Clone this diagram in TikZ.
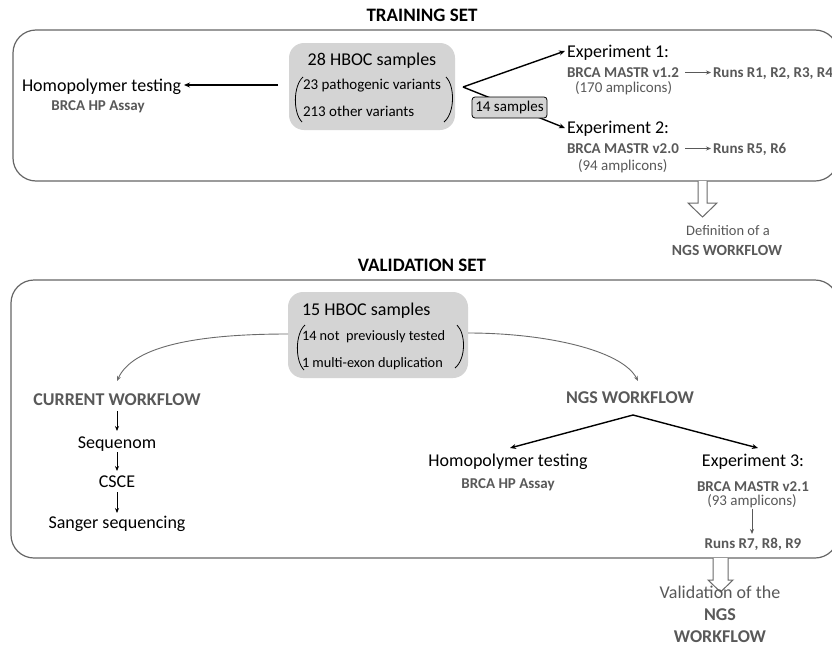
\documentclass[tikz,border=0pt]{standalone}
\usepackage{fontspec}
\setmainfont{Carlito}
\usetikzlibrary{arrows.meta}
\definecolor{tg}{HTML}{595959}
\definecolor{bx}{HTML}{666666}
\definecolor{fl}{HTML}{D4D4D4}
\definecolor{cv}{HTML}{6A6A6A}
\newcommand\fsA{\fontsize{18}{21}\selectfont}
\newcommand\fsB{\fontsize{15}{18}\selectfont}
\newcommand\fsC{\fontsize{14.3}{17}\selectfont}
\newcommand\fsT{\fontsize{19}{22}\selectfont\bfseries}
\begin{document}
\begin{tikzpicture}[x=1pt,y=-1pt,
  txt/.style={inner sep=0pt,outer sep=0pt},
  big/.style={txt,font=\fsA},
  small/.style={txt,font=\fsB},
  sub/.style={txt,font=\fsB\bfseries,text=tg},
  note/.style={txt,font=\fsB,text=tg},
  wf/.style={txt,font=\fontsize{18}{21}\selectfont\bfseries,text=tg},
  setbox/.style={draw=bx,line width=1.2pt,rounded corners=23pt},
  graybox/.style={fill=fl,rounded corners=15pt,inner sep=0pt,outer sep=0pt},
  blk/.style={line width=1.4pt,-{Stealth[length=6pt,width=5pt]}},
  thin/.style={line width=0.9pt,-{Stealth[length=5pt,width=4pt]}},
  gar/.style={line width=0.9pt,draw=tg,-{Stealth[length=5pt,width=4pt]}},
  curve/.style={line width=0.9pt,draw=cv,-{Stealth[length=5pt,width=4pt]}},
  paren/.style={line width=0.8pt},
  hollow/.style={draw=cv,line width=1pt,fill=white}]
\useasboundingbox (0,0) rectangle (832,648);
\fill[white] (0,0) rectangle (832,648);

% ---------------- TRAINING SET ----------------
\node[txt,anchor=base,font=\fsT] (t1) at (422,21) {TRAINING SET};
\draw[setbox] (13,30) rectangle (838,181);

\node[graybox,minimum width=166pt,minimum height=87pt] (hboc) at (372,86.5) {};
\node[big,anchor=base] (s28) at (372,65) {28 HBOC samples};
\node[small,anchor=base west] (v23) at (303,89) {23 pathogenic variants};
\node[small,anchor=base west] (v213) at (303,116) {213 other variants};
\draw[paren] (303,77) .. controls (293,86) and (293,113) .. (302,122);
\draw[paren] (446,77) .. controls (455,86) and (455,113) .. (444,122);

\node[big,anchor=base west] (hp1) at (22,91) {Homopolymer testing};
\node[sub,anchor=base] (hpa1) at (98,110) {BRCA HP Assay};
\coordinate (hpsrc) at (278,85);
\coordinate (hpdst) at (184,85);
\draw[blk] (hpsrc) -- (hpdst);

\node[big,anchor=base west] (e1) at (567,57) {Experiment 1:};
\node[sub,anchor=base west] (m12) at (567,77) {BRCA MASTR v1.2};
\node[sub,anchor=base west] (r14) at (713,77) {Runs R1, R2, R3, R4};
\node[note,anchor=base west] (a170) at (575,92) {(170 amplicons)};
\draw[gar] (685,72.5) -- (711,72.5);

\node[big,anchor=base west] (e2) at (567,133) {Experiment 2:};
\node[sub,anchor=base west] (m20) at (567,153) {BRCA MASTR v2.0};
\node[sub,anchor=base west] (r56) at (713,153) {Runs R5, R6};
\node[note,anchor=base west] (a94) at (578,170) {(94 amplicons)};
\draw[gar] (685,148.5) -- (711,148.5);

\coordinate (br) at (463,87);
\coordinate (e1tip) at (565,51);
\coordinate (e2tip) at (565,128);
\draw[blk] (br) -- (e1tip);
\draw[blk] (br) -- (e2tip);
\node[draw,line width=0.8pt,fill=fl,rounded corners=3pt,minimum width=75pt,minimum height=21pt,inner sep=0pt,font=\fsB] (s14) at (509.5,107.5) {14 samples};

% hollow arrow 1
\draw[hollow] (698,181) -- (698,203) -- (688,203) -- (702.5,217) -- (717,203) -- (707,203) -- (707,181);
\node[txt,anchor=base,font=\fontsize{14.5}{17}\selectfont,text=tg] (def) at (728,235) {Definition of a};
\node[txt,anchor=base,font=\fontsize{15.5}{18}\selectfont\bfseries,text=tg] (ngs1) at (727,255) {NGS WORKFLOW};

% ---------------- VALIDATION SET ----------------
\node[txt,anchor=base,font=\fsT] (t2) at (422,271) {VALIDATION SET};
\draw[setbox] (11,280) rectangle (838,558);

\node[graybox,minimum width=180pt,minimum height=86pt] (hboc2) at (378,335) {};
\node[big,anchor=base west] (s15) at (302,315) {15 HBOC samples};
\node[txt,font=\fsC,anchor=base west] (v14) at (302,340) {14 not\ \ previously tested};
\node[txt,font=\fsC,anchor=base west] (v1) at (302,367) {1 multi-exon duplication};
\draw[paren] (305,325) .. controls (295,334) and (295,361) .. (304,370);
\draw[paren] (457,325) .. controls (466,334) and (466,359) .. (455,368);

\node[wf,anchor=base] (cw) at (117,405) {CURRENT WORKFLOW};
\node[big,anchor=base] (seq) at (117,448) {Sequenom};
\node[big,anchor=base] (csce) at (117,487) {CSCE};
\node[big,anchor=base] (sang) at (117,528) {Sanger sequencing};
\draw[thin] (117,411) -- (117,431);
\draw[thin] (117,452) -- (117,471);
\draw[thin] (117,492) -- (117,513);

\node[wf,anchor=base] (nw) at (630,403) {NGS WORKFLOW};
\coordinate (apex) at (633,415);
\coordinate (ltip) at (510,448);
\coordinate (rtip) at (758,448);
\draw[blk,line width=1.4pt] (apex) -- (ltip);
\draw[blk,line width=1.4pt] (apex) -- (rtip);

\coordinate (cl0) at (288,334);
\coordinate (cl1) at (117,381);
\coordinate (cr0) at (468,333);
\coordinate (cr1) at (638,381);
\draw[curve] (cl0) .. controls (190,334) and (132,348) .. (cl1);
\draw[curve] (cr0) .. controls (545,333) and (622,350) .. (cr1);

\node[big,anchor=base] (hp2) at (508,466) {Homopolymer testing};
\node[sub,anchor=base] (hpa2) at (508,488) {BRCA HP Assay};

\node[big,anchor=base] (e3) at (753,466) {Experiment 3:};
\node[sub,anchor=base] (m21) at (753,491) {BRCA MASTR v2.1};
\node[note,anchor=base] (a93) at (752,505) {(93 amplicons)};
\node[sub,anchor=base] (r79) at (753,548) {Runs R7, R8, R9};
\draw[gar] (752,509) -- (752,534);

% hollow arrow 2
\draw[hollow] (713,558) -- (713,580) -- (708,580) -- (720.5,592) -- (733,580) -- (728,580) -- (728,558);
\node[txt,anchor=base,font=\fsA,text=tg] (val) at (720,598) {Validation of the};
\node[txt,anchor=base,font=\fsA\bfseries,text=tg] (ngs2) at (720,620) {NGS};
\node[txt,anchor=base,font=\fsA\bfseries,text=tg] (wf2) at (720,642) {WORKFLOW};
\end{tikzpicture}
\end{document}
